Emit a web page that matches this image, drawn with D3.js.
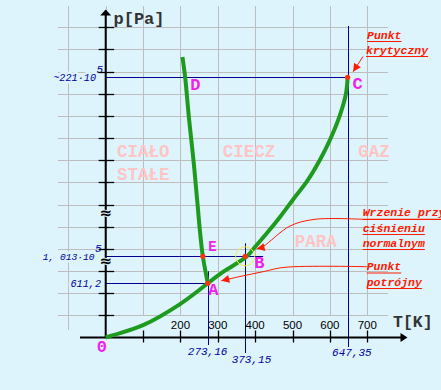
<!DOCTYPE html>
<html>
<head>
<meta charset="utf-8">
<script src="https://cdn.jsdelivr.net/npm/d3@7"></script>
<style>
  html, body { margin: 0; padding: 0; background: #ddf4fc; }
  svg { display: block; }
  .mono { font-family: 'Liberation Mono', 'Courier New', monospace; }
  .halo { paint-order: stroke; stroke: #ddf4fc; stroke-width: 5px; stroke-linejoin: round; }
</style>
</head>
<body>
<div id="chart"></div>
<script>
'use strict';

// phase boundaries of water, [T in K, p in Pa]
var sublimation = [[0, 0], [20, 26], [100, 139], [199, 377], [273.16, 611.2]];
var vaporization = [[273.16, 611.2], [315, 43880], [378, 101325], [400, 1.28e6], [431, 2.93e6],
  [467, 4.97e6], [507, 7.43e6], [538, 9.27e6], [573, 11.94e6], [600, 14.39e6],
  [627, 17.47e6], [643, 20.13e6], [647.35, 22.1e6]];
var melting = [[273.16, 611.2], [259.9, 101325], [252.7, 2.96e6], [244.7, 7.02e6],
  [234.8, 11.94e6], [223.3, 16.85e6], [212.6, 22.1e6], [205.3, 24.6e6]];

var tempTicks = [100, 200, 300, 400, 500, 600, 700];
var tempLabels = ['', '200', '300', '400', '500', '600', '700'];
var gridTemps = [-100, 0, 100, 200, 300, 400, 500, 600, 700];
var gridRows = [1, 2, 3, 4, 5, 6, 7, 8, 9, 10, 11, 12, 13, 14];
var breakRows = [3.45, 5.6];

var refTemps = [273.16, 373.15, 647.35];
var refTempLabels = ['273,16', '373,15', '647,35'];
var refPressures = [22.1e6, 101325, 611.2];
var refPressureLabels = ['~221·10', '1, 013·10', '611,2'];
var refPressureSup = ['5', '5', ''];

var pointNames = ['A', 'B', 'C', 'E'];
var pointT = [273.16, 373.15, 647.35, 259.9];
var pointP = [611.2, 101325, 22.1e6, 101325];

var regionNames = [['CIAŁO', 'STAŁE'], ['CIECZ'], ['GAZ'], ['PARA']];
var regionT = [30, 313, 676, 506];
var regionP = [13.0e6, 13.0e6, 13.0e6, 2.0e6];

var W = 441, H = 390;

var x = d3.scaleLinear().domain([0, 700]).range([105.7, 367.3]);
// broken pressure axis: piecewise linear
var y = d3.scaleLinear().domain([0, 611.2, 101325, 22.1e6]).range([337.5, 283.3, 256.3, 77.3]);
var row = d3.scaleLinear().domain([0, 14]).range([337.5, 27.3]);

var svg = d3.select('#chart').append('svg').attr('width', W).attr('height', H);
svg.append('rect').attr('width', W).attr('height', H).attr('fill', '#ddf4fc');

var defs = svg.append('defs');
defs.append('marker').attr('id', 'arrow').attr('viewBox', '0 0 10 10')
  .attr('refX', 10).attr('refY', 5).attr('markerWidth', 9).attr('markerHeight', 8)
  .attr('markerUnits', 'userSpaceOnUse').attr('orient', 'auto')
  .append('path').attr('d', 'M0,0L10,5L0,10z').attr('fill', '#ff1a00');

// grid
var grid = svg.append('g').attr('stroke', '#bdbdbd').attr('stroke-width', 1);
grid.selectAll('line.h').data(gridRows).enter().append('line')
  .attr('x1', 58).attr('x2', 388)
  .attr('y1', function (d) { return Math.round(row(d)) + 0.5; })
  .attr('y2', function (d) { return Math.round(row(d)) + 0.5; });
grid.selectAll('line.v').data(gridTemps).enter().append('line')
  .attr('x1', function (d) { return Math.round(x(d)) + 0.5; })
  .attr('x2', function (d) { return Math.round(x(d)) + 0.5; })
  .attr('y1', 6).attr('y2', function (d) { return d < 0 ? 330 : row(1); });

// region names
var regions = svg.append('g').attr('class', 'mono').attr('fill', '#ffc4c4')
  .attr('font-size', 17.5).attr('font-weight', 'bold');
regionNames.forEach(function (lines, i) {
  lines.forEach(function (t, j) {
    regions.append('text').attr('x', x(regionT[i])).attr('y', y(regionP[i]) + 6 + j * 22.5).text(t);
  });
});

// reference lines
var blue = '#000090';
var ref = svg.append('g').attr('stroke', blue).attr('stroke-width', 1);
var hEnd = [x(647.35), x(373.15) + 18, x(273.16)];
refPressures.forEach(function (p, i) {
  ref.append('line').attr('x1', x(0)).attr('x2', hEnd[i])
    .attr('y1', Math.round(y(p)) + 0.5).attr('y2', Math.round(y(p)) + 0.5);
});
var vTop = [y(611.2) - 12, y(101325) - 13, 26];
var vBottom = [345, 353, 347];
refTemps.forEach(function (t, i) {
  ref.append('line').attr('x1', Math.round(x(t)) + 0.5).attr('x2', Math.round(x(t)) + 0.5)
    .attr('y1', vTop[i]).attr('y2', vBottom[i]);
});

// reference labels
var labels = svg.append('g').attr('class', 'mono').attr('fill', '#0000a0').attr('font-style', 'italic');
var labEnd = [96, 94.5, 101];
refPressures.forEach(function (p, i) {
  labels.append('text').attr('class', 'halo').attr('x', labEnd[i]).attr('y', y(p) + 3.5)
    .attr('text-anchor', 'end').attr('font-size', i === 1 ? 9.6 : 10.2).text(refPressureLabels[i]);
  if (refPressureSup[i]) {
    labels.append('text').attr('x', labEnd[i] + 0.5).attr('y', y(p) - 4.5)
      .attr('font-size', 11).text(refPressureSup[i]);
  }
});
var tLabDx = [-20, -13.5, -15.5];
var tLabY = [355, 363, 355.5];
refTemps.forEach(function (t, i) {
  labels.append('text').attr('x', x(t) + tLabDx[i]).attr('y', tLabY[i])
    .attr('font-size', 11).text(refTempLabels[i]);
});

// axes
var axes = svg.append('g');
axes.append('line').attr('x1', x(0)).attr('x2', x(0)).attr('y1', 14).attr('y2', row(0))
  .attr('stroke', '#000').attr('stroke-width', 2);
axes.append('path').attr('d', 'M' + (x(0) - 5.5) + ',15.5L' + (x(0) + 5.5) + ',15.5L' + x(0) + ',9.5z').attr('fill', '#000');
axes.append('line').attr('x1', 80).attr('x2', 402).attr('y1', row(0)).attr('y2', row(0))
  .attr('stroke', '#000').attr('stroke-width', 2);
axes.append('path').attr('d', 'M400.5,' + (row(0) - 4.5) + 'L400.5,' + (row(0) + 4.5) + 'L407.5,' + row(0) + 'z').attr('fill', '#000');

axes.selectAll('line.yt').data(gridRows).enter().append('line')
  .attr('x1', x(0) - 7).attr('x2', x(0) + 8.5)
  .attr('y1', function (d) { return Math.round(row(d)) + 0.5; })
  .attr('y2', function (d) { return Math.round(row(d)) + 0.5; })
  .attr('stroke', '#000').attr('stroke-width', 1.3);
axes.selectAll('line.xt').data(tempTicks).enter().append('line')
  .attr('x1', function (d) { return Math.round(x(d)) + 0.5; })
  .attr('x2', function (d) { return Math.round(x(d)) + 0.5; })
  .attr('y1', row(0) - 7).attr('y2', row(0) + 5)
  .attr('stroke', '#000').attr('stroke-width', 1.3);
axes.selectAll('text.xl').data(tempTicks).enter().append('text')
  .attr('x', function (d) { return x(d); }).attr('y', 328.5)
  .attr('text-anchor', 'middle').attr('font-family', 'Liberation Sans, Arial, sans-serif')
  .attr('font-size', 11.5).attr('fill', '#000')
  .text(function (d, i) { return tempLabels[i]; });

axes.selectAll('text.br').data(breakRows).enter().append('text')
  .attr('class', 'halo').style('stroke-width', '2px')
  .attr('x', x(0)).attr('y', function (d) { return row(d) + 5; })
  .attr('text-anchor', 'middle').attr('font-family', 'DejaVu Sans, sans-serif')
  .attr('font-weight', 'bold').attr('font-size', 15).attr('fill', '#000').text('≈');

axes.append('text').attr('class', 'mono').attr('x', 113.5).attr('y', 23.5)
  .attr('font-size', 17).attr('font-weight', 'bold').attr('fill', '#333').text('p[Pa]');
axes.append('text').attr('class', 'mono').attr('x', 393).attr('y', 327)
  .attr('font-size', 16.5).attr('font-weight', 'bold').attr('fill', '#333').text('T[K]');

// phase curves
var line = d3.line()
  .x(function (d) { return x(d[0]); })
  .y(function (d) { return y(d[1]); })
  .curve(d3.curveCatmullRom);
var curves = svg.append('g').attr('fill', 'none').attr('stroke', '#1e9b1e')
  .attr('stroke-width', 4).attr('stroke-linecap', 'butt');
[sublimation, vaporization, melting].forEach(function (data) {
  curves.append('path').attr('d', line(data));
});

// boiling point circle and dots
svg.append('circle').attr('cx', x(373.15)).attr('cy', y(101325)).attr('r', 9.5)
  .attr('fill', 'none').attr('stroke', '#f4f040').attr('stroke-width', 1);
svg.selectAll('circle.pt').data(pointNames).enter().append('circle')
  .attr('cx', function (d, i) { return x(pointT[i]); })
  .attr('cy', function (d, i) { return y(pointP[i]); })
  .attr('r', 2.6).attr('fill', '#ff3010');

// point letters
var letterDx = { A: 0.5, B: 9, C: 5, E: 5.5 };
var letterDy = { A: 12, B: 11.5, C: 11.3, E: -5.3 };
var letters = svg.append('g').attr('class', 'mono').attr('fill', '#f020f0').attr('font-weight', 'bold');
pointNames.forEach(function (n, i) {
  letters.append('text').attr('x', x(pointT[i]) + letterDx[n]).attr('y', y(pointP[i]) + letterDy[n])
    .attr('font-size', n === 'E' ? 14 : 17).text(n);
});
letters.append('text').attr('x', x(melting[6][0]) + 5).attr('y', y(melting[6][1]) + 12.7)
  .attr('font-size', 17).text('D');
letters.append('text').attr('x', x(0) - 9).attr('y', row(0) + 14.5)
  .attr('font-size', 17).text('0');

// annotations
var red = '#ff1a00';
var notes = svg.append('g').attr('class', 'mono').attr('fill', red)
  .attr('font-style', 'italic').attr('font-weight', 'bold').attr('font-size', 11.5);
var noteText = ['Punkt', 'krytyczny', 'Wrzenie przy', 'ciśnieniu', 'normalnym', 'Punkt', 'potrójny'];
var noteX = [367, 366, 362.7, 362.7, 362.7, 366.7, 366.7];
var noteY = [38.5, 53.5, 216.3, 231.5, 246.5, 270, 285.5];
noteText.forEach(function (t, i) {
  var tx = notes.append('text').attr('x', noteX[i]).attr('y', noteY[i]).text(t);
  var len = tx.node().getComputedTextLength();
  notes.append('line').attr('x1', noteX[i]).attr('x2', noteX[i] + len)
    .attr('y1', noteY[i] + 3).attr('y2', noteY[i] + 3)
    .attr('stroke', red).attr('stroke-width', 1.2);
});

var A = [x(273.16), y(611.2)], B = [x(373.15), y(101325)], C = [x(647.35), y(22.1e6)];
var leaders = [
  [[363, 56.5], [C[0] + 5.5, C[1] - 5.5]],
  [[363, 219.3], [315, 219.3], [290, 226], [263, 246.5], [B[0] + 11.5, B[1] - 7.5]],
  [[367, 266.7], [285, 267.3], [263, 271.7], [240, 276.5], [A[0] + 13.5, A[1] - 2.5]]
];
var leaderLine = d3.line().curve(d3.curveCatmullRom);
leaders.forEach(function (pts) {
  svg.append('path').attr('d', leaderLine(pts)).attr('fill', 'none')
    .attr('stroke', red).attr('stroke-width', 1).attr('marker-end', 'url(#arrow)');
});
</script>
</body>
</html>
